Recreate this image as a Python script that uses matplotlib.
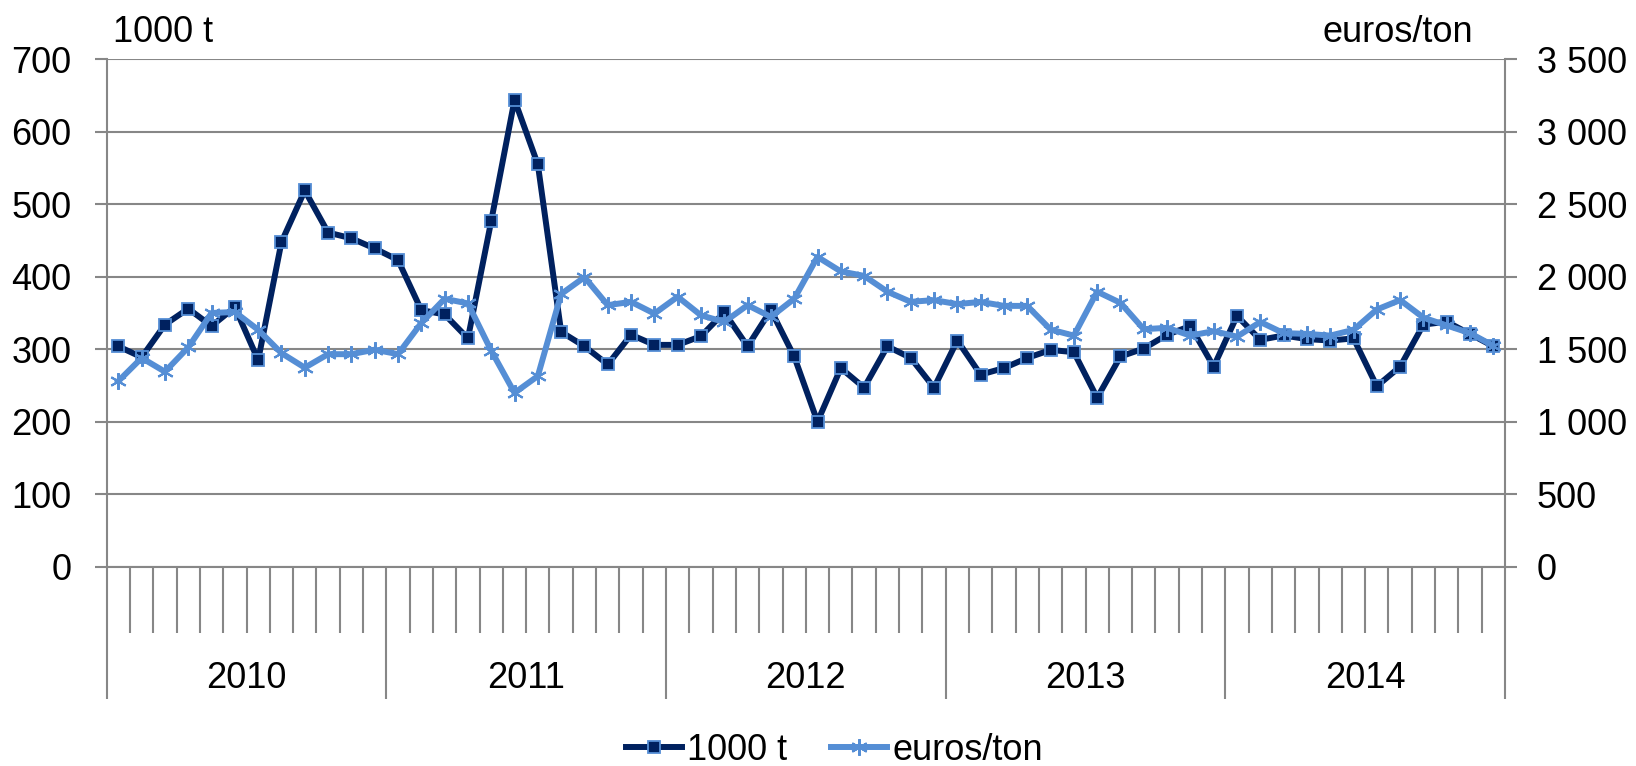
import matplotlib
matplotlib.use("Agg")
import matplotlib.pyplot as plt
from matplotlib.ticker import FuncFormatter, FixedLocator
import numpy as np

plt.rcParams['font.family'] = ['Liberation Sans', 'DejaVu Sans']

years = ["2010", "2011", "2012", "2013", "2014"]
volume_kt = [304, 289, 334, 356, 332, 358, 285, 448, 519, 461, 453, 439,
             423, 354, 348, 315, 477, 644, 555, 324, 304, 279, 320, 306,
             306, 318, 351, 304, 354, 290, 200, 274, 247, 304, 288, 247,
             312, 265, 274, 288, 299, 296, 233, 290, 301, 320, 332, 276,
             346, 313, 319, 314, 312, 315, 249, 276, 334, 338, 321, 304]
price_eur = [1280, 1440, 1345, 1513, 1750, 1757, 1634, 1473, 1373, 1466, 1466, 1497,
             1466, 1681, 1848, 1816, 1490, 1199, 1315, 1881, 1997, 1804, 1827, 1746,
             1862, 1734, 1688, 1804, 1723, 1848, 2137, 2037, 2006, 1897, 1827, 1839,
             1811, 1827, 1799, 1799, 1636, 1594, 1897, 1820, 1638, 1648, 1594, 1625,
             1587, 1688, 1611, 1606, 1594, 1634, 1774, 1839, 1718, 1664, 1611, 1524]
left_ticks = [0, 100, 200, 300, 400, 500, 600, 700]
right_ticks = [0, 500, 1000, 1500, 2000, 2500, 3000, 3500]

DARK = '#00215F'
LIGHT = '#558ED5'
GRAY = '#878787'
FS = 26
PX = 72.0 / 100.0  # points per pixel at dpi 100

W, H = 1636, 766
fig = plt.figure(figsize=(W / 100, H / 100), dpi=100)
x0, x1, ytop, ybot = 106.7, 1505.0, 59.3, 566.7
ax = fig.add_axes([x0 / W, 1 - ybot / H, (x1 - x0) / W, (ybot - ytop) / H])
ax2 = ax.twinx()

n = len(volume_kt)
x = np.arange(n)

ax.plot(x, volume_kt, color=DARK, lw=4.3, marker='s', ms=8.5,
        mfc=DARK, mec=LIGHT, mew=1.3, label='1000 t', zorder=3, clip_on=False)
ax2.plot(x, price_eur, color=LIGHT, lw=4.3, marker=(6, 2, 0), ms=12,
         mec=LIGHT, mew=1.5, label='euros/ton', zorder=3, clip_on=False)

ax.set_xlim(-0.5, n - 0.5)
ax.set_ylim(0, 700)
ax2.set_ylim(0, 3500)
ax.set_yticks(left_ticks)
ax2.set_yticks(right_ticks)
ax2.yaxis.set_major_formatter(FuncFormatter(lambda v, p: f"{int(v):,}".replace(',', ' ')))

ax.grid(axis='y', color=GRAY, lw=1.5, zorder=0)
ax.set_axisbelow(True)

for a in (ax, ax2):
    for s in a.spines.values():
        s.set_color(GRAY)
        s.set_linewidth(1.5)
    a.spines['top'].set_visible(False)
ax2.spines['left'].set_visible(False)
ax2.spines['bottom'].set_visible(False)
ax.spines['right'].set_visible(False)

ax.tick_params(axis='y', direction='out', length=12 * PX, width=1.5, color=GRAY,
               labelsize=FS, pad=23 * PX)
ax2.tick_params(axis='y', direction='out', length=12 * PX, width=1.5, color=GRAY,
                labelsize=FS, pad=20 * PX)

year_bounds = [i * 12 - 0.5 for i in range(len(years) + 1)]
month_bounds = [k - 0.5 for k in range(1, n) if k % 12 != 0]
ax.xaxis.set_major_locator(FixedLocator(year_bounds))
ax.xaxis.set_minor_locator(FixedLocator(month_bounds))
ax.tick_params(axis='x', which='major', direction='out', length=131.6 * PX, width=1.5,
               color=GRAY, labelbottom=False)
ax.tick_params(axis='x', which='minor', direction='out', length=66 * PX, width=1.5,
               color=GRAY, labelbottom=False)

trans = ax.get_xaxis_transform()
for i, yr in enumerate(years):
    ax.text(i * 12 + 5.5, -(688.3 - ybot) / (ybot - ytop), yr, transform=trans,
            ha='center', va='baseline', fontsize=FS)

fig.text(113 / W, 1 - 42.3 / H, '1000 t', ha='left', va='baseline', fontsize=FS)
fig.text(1473 / W, 1 - 42.3 / H, 'euros/ton', ha='right', va='baseline', fontsize=FS)

h1, l1 = ax.get_legend_handles_labels()
h2, l2 = ax2.get_legend_handles_labels()
fig.legend(h1 + h2, l1 + l2, loc='center', bbox_to_anchor=(834.5 / W, 1 - 750 / H),
           ncol=2, frameon=False, fontsize=FS, handlelength=1.55, handletextpad=0.15,
           columnspacing=1.2, numpoints=1, borderpad=0)

fig.savefig('out.png', dpi=100)
